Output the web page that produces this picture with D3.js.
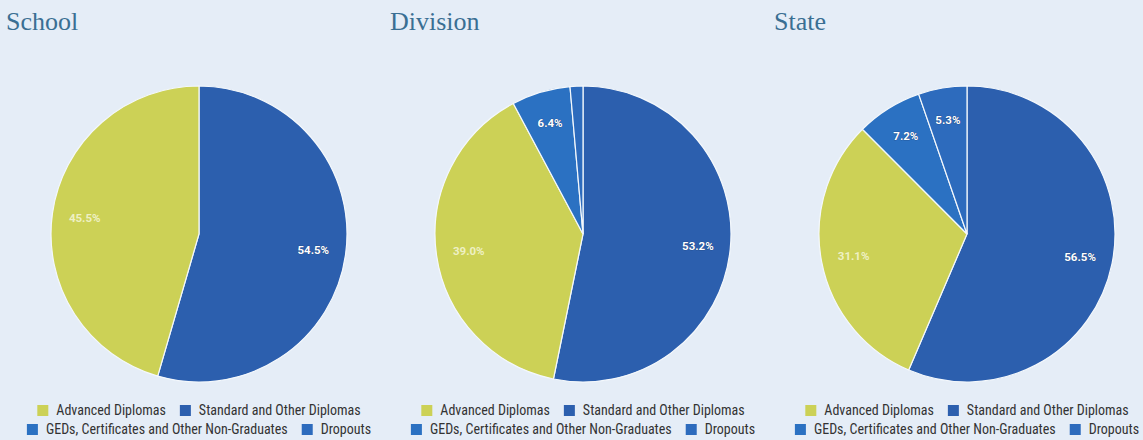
<!DOCTYPE html>
<html>
<head>
<meta charset="utf-8">
<script src="https://cdn.jsdelivr.net/npm/d3@7/dist/d3.min.js"></script>
<style>
  html, body { margin: 0; padding: 0; background: #e5edf7; }
  svg { display: block; }
</style>
</head>
<body>
<svg id="chart" width="1143" height="440"></svg>
<script>
// Graduation outcomes by level (percent of cohort)
const categories = ["Standard and Other Diplomas", "Advanced Diplomas", "GEDs, Certificates and Other Non-Graduates", "Dropouts"];
const panels = ["School", "Division", "State"];
const schoolValues = [54.5, 45.5, 0, 0];
const divisionValues = [53.2, 39.0, 6.4, 1.4];
const stateValues = [56.5, 31.1, 7.2, 5.3];
const legendRows = [["Advanced Diplomas", "Standard and Other Diplomas"], ["GEDs, Certificates and Other Non-Graduates", "Dropouts"]];

const seriesByPanel = [schoolValues, divisionValues, stateValues];
const color = d3.scaleOrdinal()
  .domain(categories)
  .range(["#2c5fae", "#ccd156", "#2b71c2", "#2d6bbd"]);

const svg = d3.select("#chart");
const panelWidth = 384;
const pie = d3.pie().sort(null).value(d => d.value);
const radius = 148;
const arc = d3.arc().innerRadius(0).outerRadius(radius);
const labelArc = d3.arc().innerRadius(radius * 0.78).outerRadius(radius * 0.78);

panels.forEach((name, i) => {
  const x0 = i * panelWidth;
  const g = svg.append("g").attr("transform", `translate(${x0},0)`);

  g.append("text")
    .attr("x", 6).attr("y", 30)
    .attr("font-family", "'Liberation Serif', 'DejaVu Serif', serif")
    .attr("font-size", 26)
    .attr("fill", "#3a6f93")
    .text(name);

  const data = categories.map((c, k) => ({ cat: c, value: seriesByPanel[i][k] }));
  const arcs = pie(data).filter(d => d.data.value > 0);

  const pg = g.append("g").attr("transform", "translate(199,234)");
  pg.selectAll("path").data(arcs).join("path")
    .attr("d", arc)
    .attr("fill", d => color(d.data.cat))
    .attr("stroke", "#f4f8fc")
    .attr("stroke-width", 1.2);

  pg.selectAll("text").data(arcs.filter(d => d.data.value >= 3)).join("text")
    .attr("transform", d => `translate(${labelArc.centroid(d)})`)
    .attr("text-anchor", "middle")
    .attr("dy", "0.35em")
    .attr("font-family", "Roboto, 'DejaVu Sans', sans-serif")
    .attr("font-weight", "bold")
    .attr("font-size", 11.5)
    .attr("fill", d => d.data.cat === "Advanced Diplomas" ? "#eef0c4" : "#ffffff")
    .attr("stroke", d => d.data.cat === "Advanced Diplomas" ? "none" : "#1c3f78")
    .attr("stroke-width", 0.6)
    .attr("paint-order", "stroke")
    .text(d => d.data.value.toFixed(1) + "%");

  // legend, two centred rows
  const lg = g.append("g");
  legendRows.forEach((row, r) => {
    const rowG = lg.append("g");
    let cx = 0;
    row.forEach(label => {
      const item = rowG.append("g").attr("transform", `translate(${cx},0)`);
      item.append("rect")
        .attr("x", 0).attr("y", -10).attr("width", 11).attr("height", 11)
        .attr("fill", color(label));
      const t = item.append("text")
        .attr("x", 19).attr("y", 0)
        .attr("font-family", "'Liberation Sans Narrow', 'Roboto Condensed', Roboto, sans-serif")
        .attr("font-size", 14)
        .attr("fill", "#333")
        .text(label);
      cx += 19 + t.node().getComputedTextLength() + 14;
    });
    const w = cx - 14;
    rowG.attr("transform", `translate(${199 - w / 2},${415 + r * 19})`);
  });
});
</script>
</body>
</html>
